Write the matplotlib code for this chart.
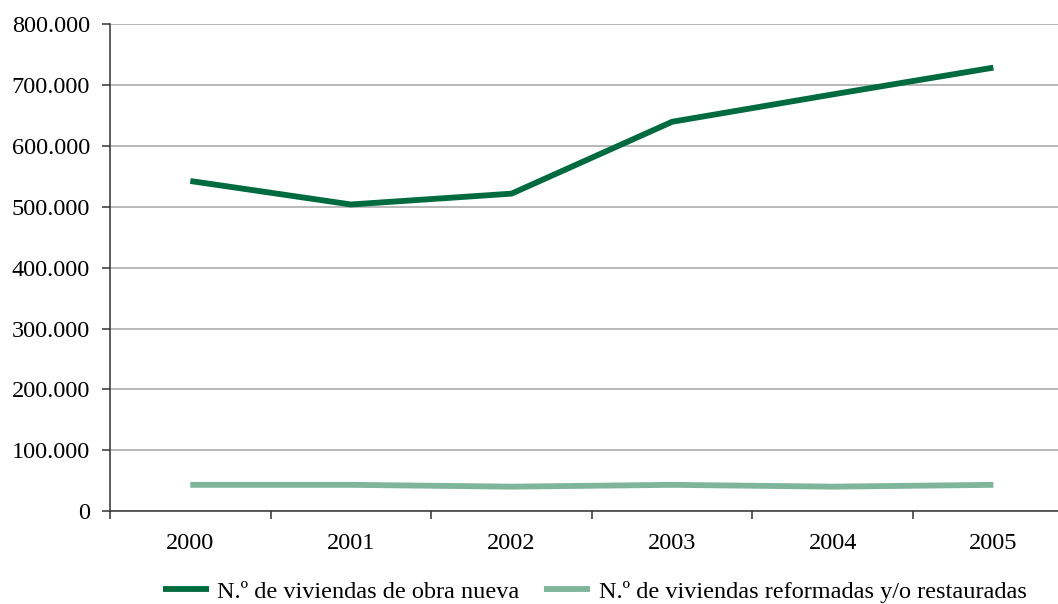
import matplotlib.pyplot as plt
from matplotlib.ticker import FuncFormatter, FixedLocator

years = ["2000", "2001", "2002", "2003", "2004", "2005"]
obra_nueva = [542600, 504000, 521800, 640000, 685000, 729000]
reformadas = [43000, 43000, 40000, 43000, 40000, 43000]

plt.rcParams['font.family'] = ['Liberation Serif', 'DejaVu Serif']

fig = plt.figure(figsize=(10.58, 6.04), dpi=100)
ax = fig.add_axes([0.104, 0.154, 0.9108, 0.8055])

x = range(len(years))
ax.plot(x, obra_nueva, color='#006b3f', lw=4.2, solid_capstyle='butt',
        label='N.º de viviendas de obra nueva')
ax.plot(x, reformadas, color='#7fb59b', lw=4.2, solid_capstyle='butt',
        label='N.º de viviendas reformadas y/o restauradas')

ax.set_xlim(-0.5, len(years) - 0.5)
ax.set_ylim(0, 800000)
ax.set_yticks(range(0, 800001, 100000))
ax.yaxis.set_major_formatter(FuncFormatter(
    lambda v, p: '0' if v == 0 else f'{int(v):,}'.replace(',', '.')))
ax.set_xticks(list(x))
ax.set_xticklabels(years)
ax.xaxis.set_minor_locator(FixedLocator([i - 0.5 for i in range(len(years) + 1)]))

ax.grid(axis='y', color='#a6a6a6', lw=1.1)
ax.set_axisbelow(True)
for s in ('top', 'right'):
    ax.spines[s].set_visible(False)
for s in ('left', 'bottom'):
    ax.spines[s].set_color('#333333')
    ax.spines[s].set_linewidth(1.1)

ax.tick_params(axis='y', labelsize=17.5, length=6, width=1.1, pad=8.5, color='#333333')
ax.tick_params(axis='x', which='major', labelsize=17.5, length=0, pad=16)
ax.tick_params(axis='x', which='minor', length=6, width=1.1, color='#333333')

fig.legend(loc='center', bbox_to_anchor=(0.562, 0.02), ncol=2, frameon=False,
           fontsize=17.5, handlelength=1.9, handletextpad=0.35, columnspacing=1.0)

fig.savefig('out.png', dpi=100)
